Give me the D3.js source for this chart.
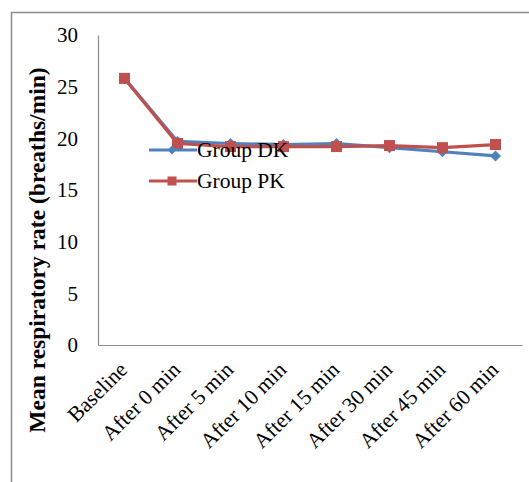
<!DOCTYPE html>
<html><head><meta charset="utf-8">
<script src="https://cdn.jsdelivr.net/npm/d3@7"></script>
<style>body{margin:0;background:#fff}svg{display:block}</style>
</head><body>
<script>
const categories = ["Baseline","After 0 min","After 5 min","After 10 min","After 15 min","After 30 min","After 45 min","After 60 min"];
const groupDK = [25.8, 19.7, 19.5, 19.4, 19.5, 19.1, 18.7, 18.3];
const groupPK = [25.8, 19.5, 19.2, 19.2, 19.2, 19.3, 19.1, 19.4];
const seriesNames = ["Group DK","Group PK"];
const yTicks = [0,5,10,15,20,25,30];

(function(){
const W = 529, H = 482;
const svg = d3.select("body").append("svg").attr("width", W).attr("height", H);
const font = "'Liberation Serif','Times New Roman',serif";

// outer frame
svg.append("path").attr("d", `M11.5,${H} V12.5 H${W}`).attr("fill","none").attr("stroke","#8c8c8c").attr("stroke-width",1.5);

const mLeft = 98, mRight = 522, mTop = 35, mBottom = 345;
const x = d3.scaleBand().domain(categories).range([mLeft, mRight]);
const y = d3.scaleLinear().domain([0, 30]).range([mBottom, mTop]);

// y axis
const ya = svg.append("g").attr("transform", `translate(${mLeft},0)`)
  .call(d3.axisLeft(y).tickValues(yTicks).tickSize(0).tickPadding(20));
ya.select(".domain").attr("stroke","#8c8c8c").attr("stroke-width",1.2);
ya.selectAll("text").attr("font-family", font).attr("font-size", 21).attr("fill","#000");

// x axis
const xa = svg.append("g").attr("transform", `translate(0,${mBottom})`)
  .call(d3.axisBottom(x).tickSize(0).tickPadding(0));
xa.select(".domain").attr("stroke","#8c8c8c").attr("stroke-width",1.2);
xa.selectAll("text").attr("font-family", font).attr("font-size", 21.5).attr("fill","#000")
  .attr("text-anchor","end").attr("dy",0)
  .attr("transform","translate(4,26) rotate(-45)");

// y title
svg.append("text").attr("transform", "translate(45,250) rotate(-90)")
  .attr("text-anchor","middle").attr("font-family", font).attr("font-weight","bold")
  .attr("font-size", 23.5).text("Mean respiratory rate (breaths/min)");

const colors = ["#4F81BD", "#C0504D"];
const data = [groupDK, groupPK];
const line = d3.line().x((d,i) => x(categories[i]) + x.bandwidth()/2).y(d => y(d));

data.forEach((s, k) => {
  svg.append("path").datum(s).attr("d", line).attr("fill","none")
    .attr("stroke", colors[k]).attr("stroke-width", 3.2).attr("stroke-linejoin","round");
  const g = svg.append("g");
  s.forEach((v, i) => {
    const cx = x(categories[i]) + x.bandwidth()/2, cy = y(v);
    if (k === 0) {
      g.append("path").attr("d", `M${cx},${cy-5.5} L${cx+5.5},${cy} L${cx},${cy+5.5} L${cx-5.5},${cy} Z`).attr("fill", colors[k]);
    } else {
      g.append("rect").attr("x", cx-5.5).attr("y", cy-5.5).attr("width",11).attr("height",11).attr("fill", colors[k]);
    }
  });
});

// legend
const lg = svg.append("g");
seriesNames.forEach((n, k) => {
  const ly = 150 + k*31;
  lg.append("line").attr("x1",149).attr("x2",197).attr("y1",ly).attr("y2",ly)
    .attr("stroke", colors[k]).attr("stroke-width",3.2);
  if (k === 0) lg.append("path").attr("d", `M172,${ly-4.5} L176.5,${ly} L172,${ly+4.5} L167.5,${ly} Z`).attr("fill", colors[k]);
  else lg.append("rect").attr("x",167.5).attr("y",ly-4.5).attr("width",9).attr("height",9).attr("fill", colors[k]);
  lg.append("text").attr("x",197).attr("y",ly+7).attr("font-family", font).attr("font-size",21.5).text(n);
});
})();
</script>
</body></html>
